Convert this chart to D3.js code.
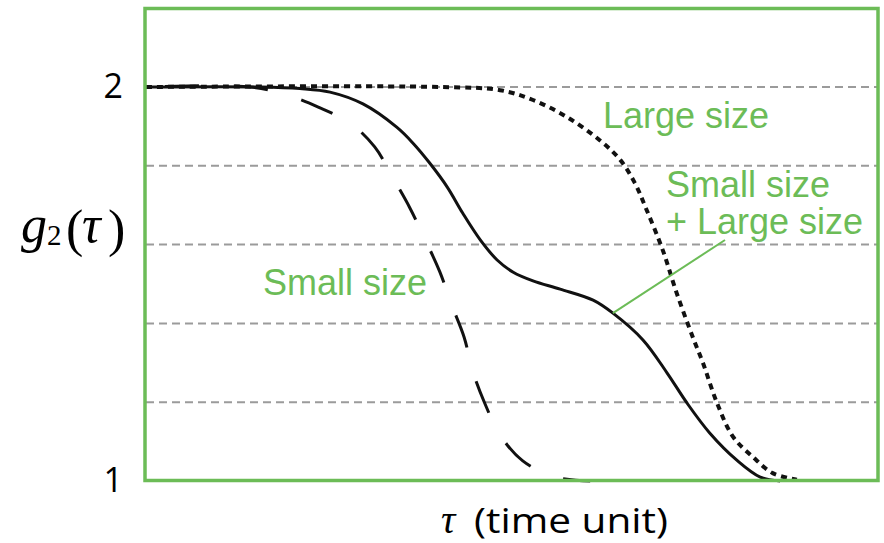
<!DOCTYPE html>
<html>
<head>
<meta charset="utf-8">
<script src="https://cdn.jsdelivr.net/npm/d3@7"></script>
<style>
  body { margin: 0; background: #fff; }
  svg { display: block; }
</style>
</head>
<body>
<svg id="chart" width="884" height="543"></svg>
<script>
// Correlation curves g2(tau): small particles, large particles and their mixture
const yTickValues = [1, 2];
const gridLevels = [1.2, 1.4, 1.6, 1.8, 2.0];

const tauSmall = [0, 14.2, 19.2, 23.5, 27.8, 31.2, 33.7, 36.0, 38.1, 40.1, 41.7, 43.4, 44.6, 46.2, 48.3, 51.4, 55.8, 60.6];
const g2Small  = [2.000, 2.000, 1.980, 1.949, 1.909, 1.848, 1.769, 1.693, 1.612, 1.530, 1.447, 1.365, 1.277, 1.198, 1.117, 1.051, 1.010, 1.000];

const tauMixed = [0, 15.6, 21.0, 25.1, 29.6, 34.2, 36.4, 38.7, 41.1, 43.2, 45.6, 47.9, 50.1, 52.8, 56.5, 61.0, 63.7, 67.8, 71.1, 73.8, 76.9, 80.6, 83.8, 86.5];
const g2Mixed  = [2.000, 2.000, 1.996, 1.987, 1.957, 1.898, 1.858, 1.807, 1.746, 1.680, 1.612, 1.561, 1.530, 1.508, 1.487, 1.459, 1.426, 1.358, 1.274, 1.198, 1.122, 1.053, 1.010, 1.000];

const tauLarge = [0, 40.1, 48.3, 52.8, 57.4, 61.9, 64.7, 66.7, 68.3, 70.5, 72.4, 74.6, 76.0, 77.9, 80.1, 82.8, 85.5, 88.8];
const g2Large  = [2.000, 2.000, 1.992, 1.967, 1.924, 1.865, 1.815, 1.756, 1.688, 1.586, 1.477, 1.365, 1.299, 1.198, 1.112, 1.061, 1.020, 1.003];

// point on the mixture curve that the callout line points to
const calloutTau = 63.7, calloutG2 = 1.426;

const green = "#6cbc57";
const svg = d3.select("#chart");

const x = d3.scaleLinear().domain([0, 100]).range([146, 879]);
const y = d3.scaleLinear().domain([1, 2]).range([481, 87]);

// dashed horizontal grid
svg.append("g").selectAll("line").data(gridLevels).join("line")
  .attr("x1", x(0)).attr("x2", x(100))
  .attr("y1", d => y(d)).attr("y2", d => y(d))
  .attr("stroke", "#9b9b9b").attr("stroke-width", 2)
  .attr("stroke-dasharray", "8,5");

const line = d3.line().x(d => x(d[0])).y(d => y(d[1])).curve(d3.curveCatmullRom.alpha(0.5));
const zip = (a, b) => a.map((v, i) => [v, b[i]]);

svg.append("path").datum(zip(tauLarge, g2Large))
  .attr("d", line).attr("fill", "none").attr("stroke", "#111")
  .attr("stroke-width", 4).attr("stroke-dasharray", "6,5");

svg.append("path").datum(zip(tauSmall, g2Small))
  .attr("d", line).attr("fill", "none").attr("stroke", "#111")
  .attr("stroke-width", 3).attr("stroke-dasharray", "34,35").attr("stroke-dashoffset", 50);

svg.append("path").datum(zip(tauMixed, g2Mixed))
  .attr("d", line).attr("fill", "none").attr("stroke", "#111")
  .attr("stroke-width", 3);

// callout line
svg.append("line")
  .attr("x1", x(calloutTau)).attr("y1", y(calloutG2))
  .attr("x2", 725).attr("y2", 240)
  .attr("stroke", green).attr("stroke-width", 2);

// plot frame
svg.append("rect")
  .attr("x", 145).attr("y", 8.5).attr("width", 733).attr("height", 472)
  .attr("fill", "none").attr("stroke", green).attr("stroke-width", 3.5);

// y-axis tick labels
const yAxis = svg.append("g").attr("transform", "translate(145,0)")
  .call(d3.axisLeft(y).tickValues(yTickValues).tickFormat(d3.format("d")).tickSize(0).tickPadding(22));
yAxis.select(".domain").remove();
yAxis.selectAll("text").attr("font-family", "'Open Sans', sans-serif").attr("font-size", 34).attr("fill", "#000");

// series labels
const labelFont = "'Liberation Sans', Arial, sans-serif";
const labels = [
  { t: "Large size", x: 603, y: 128 },
  { t: "Small size", x: 666, y: 197 },
  { t: "+ Large size", x: 666, y: 234 },
  { t: "Small size", x: 263, y: 295 }
];
svg.append("g").selectAll("text").data(labels).join("text")
  .attr("x", d => d.x).attr("y", d => d.y).text(d => d.t)
  .attr("font-family", labelFont).attr("font-size", 36).attr("fill", green);

// y-axis title g2(tau)
const serif = "'Liberation Serif', 'DejaVu Serif', serif";
const yTitle = svg.append("text").attr("fill", "#000").attr("font-family", serif).attr("font-size", 52);
yTitle.append("tspan").attr("x", 21).attr("y", 242).attr("font-style", "italic").text("g");
yTitle.append("tspan").attr("x", 47).attr("y", 245).attr("font-size", 29).text("2");
yTitle.append("tspan").attr("x", 66).attr("y", 246).text("(");
yTitle.append("tspan").attr("x", 82).attr("y", 242).attr("font-style", "italic").text("τ");
yTitle.append("tspan").attr("x", 108).attr("y", 246).text(")");

// x-axis title
const xTitle = svg.append("text").attr("y", 533).attr("fill", "#000")
  .attr("font-family", "'Open Sans', sans-serif").attr("font-size", 35);
xTitle.append("tspan").attr("x", 441)
  .attr("font-family", serif).attr("font-style", "italic").attr("font-size", 40).text("τ");
xTitle.append("tspan").attr("x", 474)
  .attr("textLength", 194).attr("lengthAdjust", "spacingAndGlyphs")
  .text("(time unit)");
</script>
</body>
</html>
